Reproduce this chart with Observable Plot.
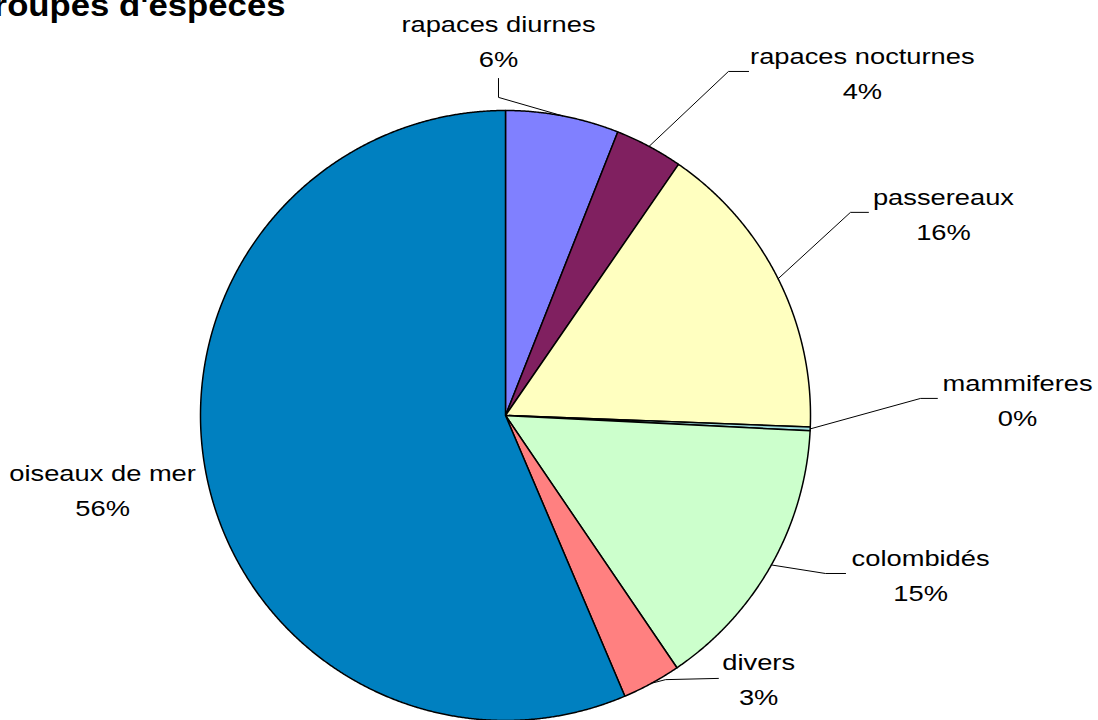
<!DOCTYPE html>
<html>
<head>
<meta charset="utf-8">
<script src="https://cdn.jsdelivr.net/npm/d3@7"></script>
<script src="https://cdn.jsdelivr.net/npm/@observablehq/plot@0.6"></script>
<style>
  html, body { margin: 0; padding: 0; background: #ffffff; }
  svg { display: block; }
</style>
</head>
<body>
<div id="chart"></div>
<script>
// ---------- data ----------
const categories = ["rapaces diurnes", "rapaces nocturnes", "passereaux", "mammiferes", "colombidés", "divers", "oiseaux de mer"];
const shares = [6.0, 3.6, 16.0, 0.2, 14.7, 3.1, 56.4];
const percentLabels = shares.map(v => Math.round(v) + "%");
const titleText = "Groupes d'espèces";

// ---------- styles ----------
const palette = ["#8080FF", "#802060", "#FFFFC0", "#A0E0E0", "#CCFFCC", "#FF8080", "#0080C0"];

// ---------- layout (unit-circle coordinates, radius = 1) ----------
const labelPos = [
  [-0.023, 1.141], [1.170, 1.039], [1.436, 0.577], [1.679, -0.033],
  [1.361, -0.607], [0.830, -0.948], [-1.321, -0.331]
];
const leaderBends = [
  [[-0.023, 1.043], [-0.023, 1.105]],
  [[0.731, 1.128], [0.797, 1.128]],
  [[1.131, 0.666], [1.190, 0.666]],
  [[1.361, 0.056], [1.416, 0.056]],
  [[1.049, -0.518], [1.115, -0.518]],
  [[0.525, -0.866], [0.698, -0.862]],
  null
];
const W = 1098, H = 720, CX = 505, CY = 415, R = 305;
const LABEL_STRETCH = 1.27;
const TITLE_STRETCH = 1.12;

// ---------- geometry from data ----------
const arcs = d3.pie().sort(null).value(d => d)(shares);
const slices = arcs.map((a, i) => {
  const n = Math.max(2, Math.ceil((a.endAngle - a.startAngle) / 0.004));
  const pts = [{x: 0, y: 0}];
  for (let k = 0; k <= n; k++) {
    const t = a.startAngle + (a.endAngle - a.startAngle) * k / n;
    pts.push({x: Math.sin(t), y: Math.cos(t)});
  }
  pts.push({x: 0, y: 0});
  return pts;
});

const leaders = [];
arcs.forEach((a, i) => {
  if (!leaderBends[i]) return;
  const m = (a.startAngle + a.endAngle) / 2;
  leaders.push({name: categories[i], x: Math.sin(m), y: Math.cos(m)});
  leaderBends[i].forEach(([x, y]) => leaders.push({name: categories[i], x, y}));
});

const labels = categories.map((c, i) => ({
  text: c + "\n" + percentLabels[i], x: labelPos[i][0], y: labelPos[i][1]
}));

const marks = [];
slices.forEach((pts, i) => {
  marks.push(Plot.line(pts, {
    x: "x", y: "y", fill: palette[i], stroke: "#000", strokeWidth: 1.5,
    strokeLinejoin: "round", curve: "linear"
  }));
});
marks.push(Plot.line(leaders, {x: "x", y: "y", z: "name", stroke: "#000", strokeWidth: 1, curve: "linear"}));
marks.push(Plot.text(labels, {
  x: "x", y: "y", text: "text", textAnchor: "middle", lineAnchor: "bottom",
  fontSize: 21.5, lineHeight: 35 / 21.5, fill: "#000", className: "lbl"
}));
marks.push(Plot.text([titleText], {
  x: [(285 - CX) / R], y: [(CY - 15) / R], text: d => d,
  textAnchor: "end", lineAnchor: "bottom", fontSize: 31, fontWeight: "bold", fill: "#000", className: "ttl"
}));

const chart = Plot.plot({
  width: W, height: H, margin: 0,
  x: {domain: [-CX / R, (W - CX) / R], axis: null},
  y: {domain: [(CY - H) / R, CY / R], axis: null},
  style: {fontFamily: "'Liberation Sans', Arial, sans-serif", background: "#ffffff", overflow: "hidden"},
  marks
});

function stretch(sel, k) {
  chart.querySelectorAll(sel).forEach(t => {
    const tr = t.getAttribute("transform");
    if (tr) t.setAttribute("transform", tr + ` scale(${k},1)`);
  });
}
stretch("g.lbl text, .lbl text", LABEL_STRETCH);
stretch("g.ttl text, .ttl text", TITLE_STRETCH);

document.getElementById("chart").appendChild(chart);
</script>
</body>
</html>
